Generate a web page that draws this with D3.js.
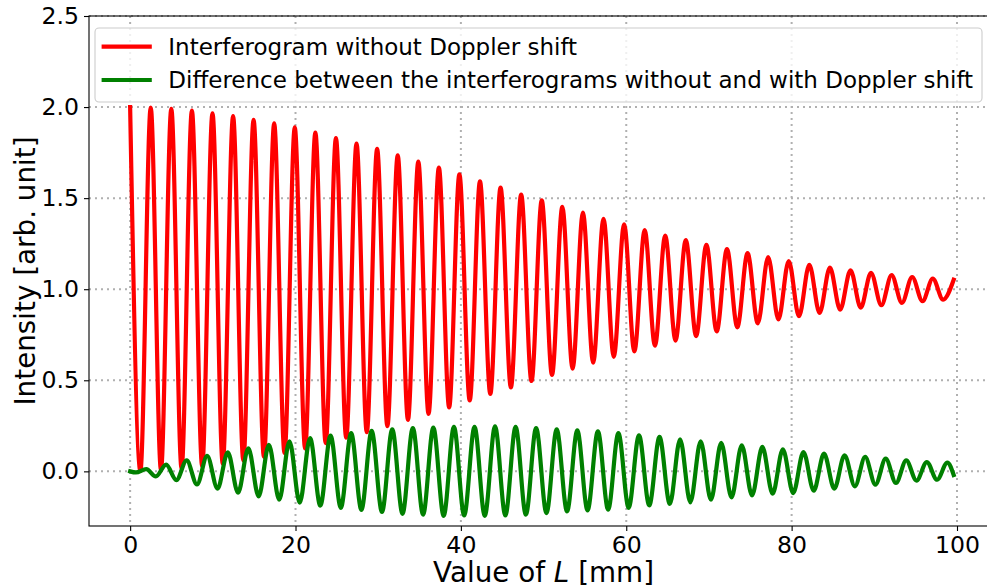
<!DOCTYPE html>
<html>
<head>
<meta charset="utf-8">
<script src="https://cdn.jsdelivr.net/npm/d3@7"></script>
<style>
  html, body { margin: 0; padding: 0; background: #ffffff; }
  svg { display: block; font-family: "DejaVu Sans", sans-serif; }
</style>
</head>
<body>
<svg id="chart" width="987" height="588"></svg>
<script>
// ---------- data ----------
const xTicks = [0, 20, 40, 60, 80, 100];
const yTicks = [0.0, 0.5, 1.0, 1.5, 2.0, 2.5];

const seriesNames = [
  "Interferogram without Doppler shift",
  "Difference between the interferograms without and with Doppler shift"
];

// red curve: maxima and minima positions [mm] and values
const redPeakL = [0, 2.49, 4.98, 7.47, 9.96, 12.45, 14.93, 17.42, 19.91, 22.40, 24.89, 27.38, 29.87, 32.36, 34.85, 37.34, 39.82, 42.31, 44.80, 47.29, 49.78, 52.27, 54.76, 57.25, 59.74, 62.23, 64.71, 67.20, 69.69, 72.18, 74.67, 77.16, 79.65, 82.14, 84.63, 87.12, 89.60, 92.09, 94.58, 97.07, 99.60];
const redPeakI = [2.000, 1.997, 1.990, 1.980, 1.966, 1.950, 1.930, 1.910, 1.888, 1.860, 1.830, 1.800, 1.770, 1.735, 1.700, 1.668, 1.630, 1.592, 1.558, 1.520, 1.488, 1.452, 1.420, 1.386, 1.356, 1.325, 1.295, 1.270, 1.244, 1.220, 1.198, 1.176, 1.155, 1.134, 1.118, 1.104, 1.090, 1.077, 1.067, 1.058, 1.052];
const redTroughL = [1.24, 3.73, 6.22, 8.71, 11.20, 13.69, 16.18, 18.67, 21.16, 23.65, 26.13, 28.62, 31.11, 33.60, 36.09, 38.58, 41.07, 43.56, 46.05, 48.54, 51.02, 53.51, 56.00, 58.49, 60.98, 63.47, 65.96, 68.45, 70.94, 73.43, 75.91, 78.40, 80.89, 83.38, 85.87, 88.36, 90.85, 93.34, 95.83, 98.32];
const redTroughI = [0.002, 0.006, 0.015, 0.027, 0.042, 0.060, 0.080, 0.101, 0.126, 0.155, 0.185, 0.215, 0.248, 0.283, 0.316, 0.351, 0.389, 0.425, 0.461, 0.496, 0.530, 0.564, 0.597, 0.629, 0.659, 0.690, 0.718, 0.743, 0.768, 0.791, 0.813, 0.834, 0.852, 0.870, 0.888, 0.899, 0.912, 0.925, 0.934, 0.943];

// green curve: maxima and minima positions [mm] and values
const greenPeakL = [1.95, 4.35, 6.84, 9.32, 11.81, 14.30, 16.78, 19.27, 21.76, 24.24, 26.73, 29.21, 31.70, 34.19, 36.67, 39.16, 41.65, 44.13, 46.62, 49.10, 51.59, 54.08, 56.57, 59.05, 61.54, 64.02, 66.51, 69.00, 71.48, 73.97, 76.46, 78.94, 81.43, 83.92, 86.40, 88.89, 91.38, 93.86, 96.35, 98.83];
const greenPeakI = [0.012, 0.037, 0.060, 0.085, 0.105, 0.127, 0.146, 0.165, 0.183, 0.197, 0.210, 0.222, 0.231, 0.238, 0.240, 0.244, 0.244, 0.247, 0.244, 0.238, 0.231, 0.225, 0.220, 0.210, 0.198, 0.189, 0.176, 0.165, 0.156, 0.143, 0.134, 0.121, 0.106, 0.097, 0.088, 0.079, 0.070, 0.060, 0.051, 0.048];
const greenTroughL = [0, 0.70, 3.11, 5.59, 8.08, 10.57, 13.05, 15.54, 18.03, 20.51, 23.00, 25.48, 27.97, 30.46, 32.94, 35.43, 37.92, 40.40, 42.89, 45.38, 47.86, 50.35, 52.84, 55.32, 57.81, 60.29, 62.78, 65.27, 67.75, 70.24, 72.73, 75.21, 77.70, 80.19, 82.67, 85.16, 87.65, 90.13, 92.62, 95.10, 97.59, 99.60];
const greenTroughI = [0.000, -0.006, -0.028, -0.048, -0.072, -0.095, -0.117, -0.138, -0.156, -0.172, -0.188, -0.200, -0.211, -0.223, -0.233, -0.238, -0.244, -0.242, -0.244, -0.242, -0.238, -0.229, -0.220, -0.214, -0.210, -0.200, -0.187, -0.179, -0.170, -0.156, -0.143, -0.132, -0.123, -0.119, -0.106, -0.095, -0.082, -0.073, -0.064, -0.051, -0.046, -0.020];

// ---------- build point tables ----------
function merge(aL, aI, bL, bI) {
  const pts = aL.map((l, i) => [l, aI[i]]).concat(bL.map((l, i) => [l, bI[i]]));
  pts.sort((p, q) => p[0] - q[0]);
  return pts;
}
const redPts = merge(redPeakL, redPeakI, redTroughL, redTroughI);
const greenPts = merge(greenPeakL, greenPeakI, greenTroughL, greenTroughI);

// ---------- layout ----------
const svg = d3.select("#chart");
const plot = { left: 89, right: 994, top: 16, bottom: 526 };

const x = d3.scaleLinear().domain([-4.975, 104.475]).range([plot.left, plot.right]);
const y = d3.scaleLinear().domain([-0.3, 2.5]).range([plot.bottom, plot.top]);

const tickFont = 23.6;

svg.append("defs").append("clipPath").attr("id", "clip")
  .append("rect")
  .attr("x", plot.left).attr("y", plot.top)
  .attr("width", plot.right - plot.left).attr("height", plot.bottom - plot.top);

// grid
const grid = svg.append("g").attr("class", "grid");
grid.selectAll("line.vx").data(xTicks).enter().append("line")
  .attr("x1", d => x(d)).attr("x2", d => x(d))
  .attr("y1", plot.top).attr("y2", plot.bottom)
  .attr("stroke", "#b0b0b0").attr("stroke-width", 2)
  .attr("stroke-dasharray", "2,4");
grid.selectAll("line.hy").data(yTicks).enter().append("line")
  .attr("x1", plot.left).attr("x2", plot.right)
  .attr("y1", d => y(d)).attr("y2", d => y(d))
  .attr("stroke", "#b0b0b0").attr("stroke-width", 2)
  .attr("stroke-dasharray", "2,4");

// curves
const line = d3.line().x(d => x(d[0])).y(d => y(d[1])).curve(d3.curveMonotoneX);
const curves = svg.append("g").attr("clip-path", "url(#clip)");
curves.append("path").datum(redPts)
  .attr("d", line).attr("fill", "none")
  .attr("stroke", "#ff0000").attr("stroke-width", 4.2)
  .attr("stroke-linejoin", "round").attr("stroke-linecap", "square");
curves.append("path").datum(greenPts)
  .attr("d", line).attr("fill", "none")
  .attr("stroke", "#008000").attr("stroke-width", 4.2)
  .attr("stroke-linejoin", "round").attr("stroke-linecap", "square");

// axes
const xAxis = d3.axisBottom(x).tickValues(xTicks).tickSize(5).tickPadding(5)
  .tickFormat(d3.format("d"));
const gx = svg.append("g").attr("transform", `translate(0,${plot.bottom})`).call(xAxis);
gx.select(".domain").remove();
gx.selectAll(".tick line").attr("stroke", "#000").attr("stroke-width", 1.1);
gx.selectAll(".tick text").attr("font-size", tickFont).attr("fill", "#000")
  .attr("font-family", "DejaVu Sans");

const yAxis = d3.axisLeft(y).tickValues(yTicks).tickSize(5).tickPadding(5)
  .tickFormat(d3.format(".1f"));
const gy = svg.append("g").attr("transform", `translate(${plot.left},0)`).call(yAxis);
gy.select(".domain").remove();
gy.selectAll(".tick line").attr("stroke", "#000").attr("stroke-width", 1.1);
gy.selectAll(".tick text").attr("font-size", tickFont).attr("fill", "#000")
  .attr("font-family", "DejaVu Sans");

// spines
const sp = svg.append("g").attr("stroke", "#000").attr("stroke-width", 1.1).attr("fill", "none");
sp.append("rect").attr("x", plot.left).attr("y", plot.top)
  .attr("width", plot.right - plot.left).attr("height", plot.bottom - plot.top);

// axis labels
const xl = svg.append("text").attr("x", x(50)).attr("y", 582)
  .attr("text-anchor", "middle").attr("font-size", 27.8).attr("fill", "#000");
xl.append("tspan").text("Value of ");
xl.append("tspan").attr("font-style", "italic").text("L");
xl.append("tspan").text(" [mm]");

svg.append("text")
  .attr("transform", `translate(35,${(plot.top + plot.bottom) / 2}) rotate(-90)`)
  .attr("text-anchor", "middle").attr("font-size", 27.8).attr("fill", "#000")
  .text("Intensity [arb. unit]");

// legend
const lg = svg.append("g");
lg.append("rect").attr("x", 95).attr("y", 28).attr("width", 887).attr("height", 74)
  .attr("rx", 4).attr("ry", 4)
  .attr("fill", "#ffffff").attr("fill-opacity", 0.8)
  .attr("stroke", "#cccccc").attr("stroke-width", 1.1);
const legendColors = ["#ff0000", "#008000"];
const rowY = [46.7, 80];
seriesNames.forEach((name, i) => {
  lg.append("line").attr("x1", 103.7).attr("x2", 149.7)
    .attr("y1", rowY[i]).attr("y2", rowY[i])
    .attr("stroke", legendColors[i]).attr("stroke-width", 4.2)
    .attr("stroke-linecap", "square");
  lg.append("text").attr("x", 168.3).attr("y", rowY[i] + 8.3)
    .attr("font-size", 23).attr("fill", "#000").text(name);
});
</script>
</body>
</html>
